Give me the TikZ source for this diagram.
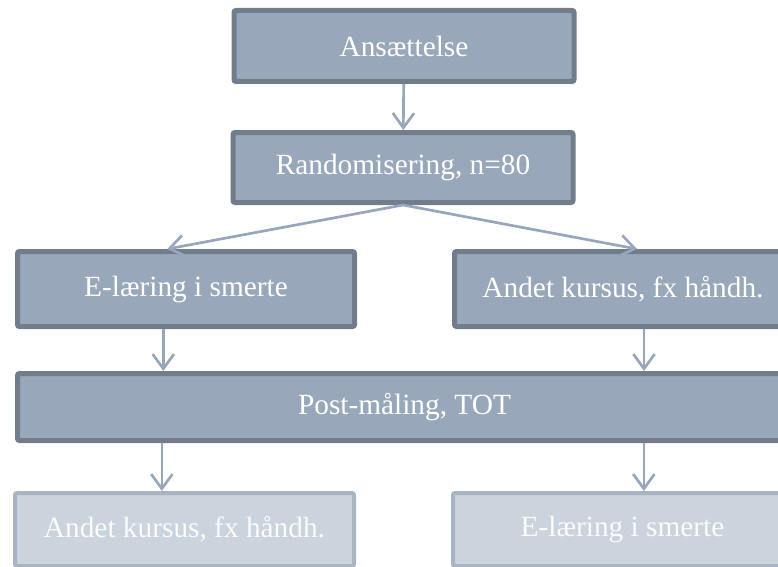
\documentclass[tikz,border=0pt]{standalone}
\usepackage{fontspec}
\setmainfont{Liberation Serif}
\usetikzlibrary{arrows.meta}
\definecolor{boxfill}{HTML}{98A7B9}
\definecolor{boxline}{HTML}{717D8B}
\definecolor{palefill}{HTML}{CBD3DD}
\definecolor{paleline}{HTML}{A9B4C2}
\definecolor{arrowcol}{HTML}{97A6BA}

\begin{document}
\begin{tikzpicture}[x=0.75pt,y=-0.75pt,
  box/.style={draw=boxline,fill=boxfill,line width=3.75pt,rounded corners=1.5pt,
    text=white,font=\fontsize{22}{26}\selectfont,inner sep=0pt},
  palebox/.style={box,draw=paleline,fill=palefill,line width=3pt,text=white!92!palefill},
  link/.style={draw=arrowcol,line width=2pt,-{Straight Barb[length=11pt,width=16pt,line width=2pt]}}]
  \clip (0,0) rectangle (778,567);
  \node[box,minimum width=255pt,minimum height=53.25pt] (hire) at (404,46) {Ansættelse};
  \node[box,minimum width=255pt,minimum height=52.5pt] (rand) at (403,167.5) {Randomisering, n=80};
  \node[box,minimum width=252.75pt,minimum height=56.25pt] (elearn) at (186,289) {E-læring i smerte};
  \node[box,minimum width=252.75pt,minimum height=56.25pt] (course) at (623,289) {Andet kursus, fx håndh.};
  \node[box,minimum width=580.5pt,minimum height=50.25pt] (post) at (404.5,407) {Post-måling, TOT};
  \node[palebox,minimum width=254.25pt,minimum height=54.75pt] (courseB) at (184.5,529.5) {Andet kursus, fx håndh.};
  \node[palebox,minimum width=254.25pt,minimum height=54.75pt] (elearnB) at (622.5,529.5) {E-læring i smerte};
  \draw[link] (hire) -- (rand);
  \draw[link] (rand.south) -- ([xshift=-14pt]elearn.north);
  \draw[link] (rand.south) -- ([xshift=10.5pt]course.north);
  \draw[link] ([xshift=-17pt]elearn.south) -- ([xshift=-17pt]elearn.south |- post.north);
  \draw[link] ([xshift=15.75pt]course.south) -- ([xshift=15.75pt]course.south |- post.north);
  \draw[link] ([xshift=-17pt]courseB.north |- post.south) -- ([xshift=-17pt]courseB.north);
  \draw[link] ([xshift=16pt]elearnB.north |- post.south) -- ([xshift=16pt]elearnB.north);
\end{tikzpicture}
\end{document}
